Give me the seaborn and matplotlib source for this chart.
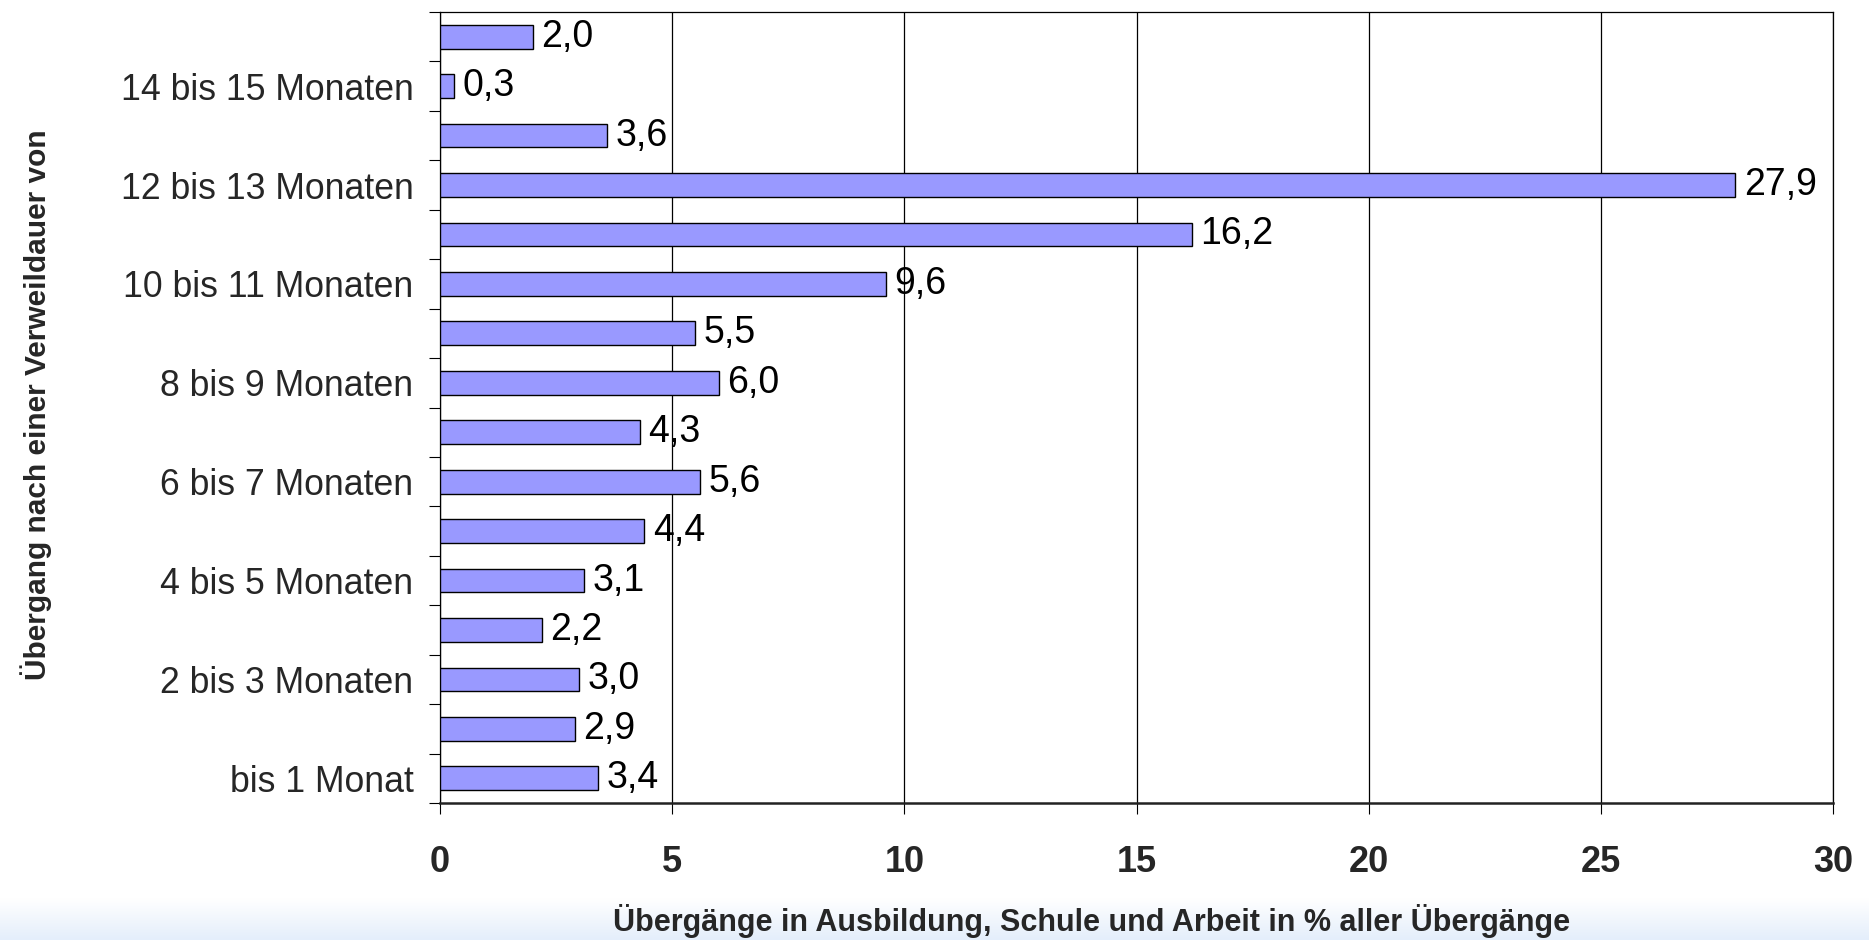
import numpy as np
import pandas as pd
import seaborn as sns
import matplotlib.pyplot as plt
from matplotlib.colors import LinearSegmentedColormap
from matplotlib.ticker import FixedLocator

# Kategorien von oben nach unten
kategorien = [
    "über 15 Monate", "14 bis 15 Monaten", "13 bis 14 Monaten", "12 bis 13 Monaten",
    "11 bis 12 Monaten", "10 bis 11 Monaten", "9 bis 10 Monaten", "8 bis 9 Monaten",
    "7 bis 8 Monaten", "6 bis 7 Monaten", "5 bis 6 Monaten", "4 bis 5 Monaten",
    "3 bis 4 Monaten", "2 bis 3 Monaten", "1 bis 2 Monaten", "bis 1 Monat",
]
anteile = [2.0, 0.3, 3.6, 27.9, 16.2, 9.6, 5.5, 6.0, 4.3, 5.6, 4.4, 3.1, 2.2, 3.0, 2.9, 3.4]
x_ticks = [0, 5, 10, 15, 20, 25, 30]

df = pd.DataFrame({"kategorie": kategorien, "anteil": anteile})

sns.set_style("white")
plt.rcParams["font.family"] = ["Liberation Sans", "DejaVu Sans"]

fig = plt.figure(figsize=(18.69, 9.40), dpi=100)

# heller Verlauf am unteren Rand
bg = fig.add_axes([0, 0, 1, 42 / 940], zorder=-1)
grad = np.linspace(0, 1, 50).reshape(-1, 1)
bg.imshow(grad, aspect="auto", cmap=LinearSegmentedColormap.from_list("g", ["#e4eefb", "#ffffff"]),
          extent=[0, 1, 0, 1], origin="lower")
bg.axis("off")

ax = fig.add_axes([440 / 1869, 1 - 803 / 940, (1833 - 440) / 1869, (803 - 12) / 940])
ax.patch.set_alpha(0)

sns.barplot(data=df, x="anteil", y="kategorie", orient="h", color="#9999ff",
            saturation=1, edgecolor="black", linewidth=1.0, width=0.48, ax=ax, zorder=3)

for i, v in enumerate(anteile):
    ax.text(v + 0.18, i, f"{v:.1f}".replace(".", ","), va="center", ha="left",
            fontsize=27, color="black", zorder=4)

ax.set_xlim(0, 30)
ax.set_ylim(15.5, -0.5)
ax.set_xticks(x_ticks)
ax.set_xticklabels([str(t) for t in x_ticks], fontsize=26, fontweight="bold")
ax.tick_params(axis="x", length=8, width=0.8, color="black", pad=22, direction="out", bottom=True)

ax.set_yticks(range(len(kategorien)))
ax.set_yticklabels([k if i % 2 == 1 else "" for i, k in enumerate(kategorien)], fontsize=25.7)
ax.tick_params(axis="y", which="major", length=0, pad=19)
ax.yaxis.set_minor_locator(FixedLocator(np.arange(-0.5, 16, 1.0)))
ax.tick_params(axis="y", which="minor", length=8, width=0.8, color="black", direction="out", left=True)

ax.grid(axis="x", color="black", linewidth=0.9, zorder=0)
ax.set_axisbelow(True)
for side in ["top", "right", "left"]:
    ax.spines[side].set_visible(True)
    ax.spines[side].set_color("black")
    ax.spines[side].set_linewidth(0.9)
ax.spines["bottom"].set_color("#222222")
ax.spines["bottom"].set_linewidth(1.8)

ax.set_xlabel("")
ax.set_ylabel("")
fig.text(1092 / 1869, 1 - 921 / 940,
         "Übergänge in Ausbildung, Schule und Arbeit in % aller Übergänge",
         ha="center", va="center", fontsize=22, fontweight="bold")
fig.text(36 / 1869, 1 - 405 / 940, "Übergang nach einer Verweildauer von", rotation=90,
         ha="center", va="center", fontsize=21.5, fontweight="bold")

fig.savefig("out.png", dpi=100)
